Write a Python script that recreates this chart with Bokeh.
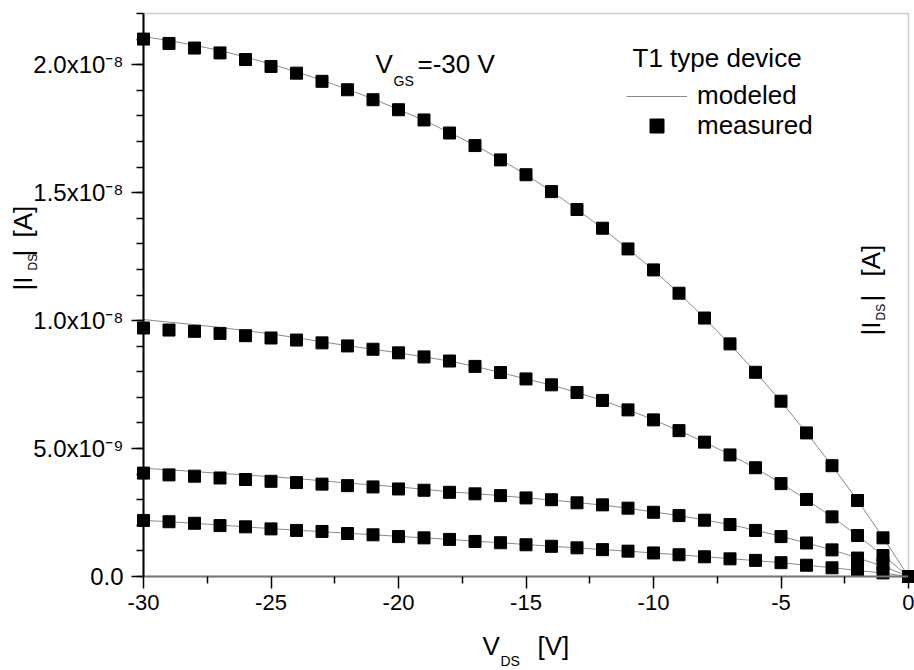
import math
from bokeh.plotting import figure
from bokeh.models import Range1d, FixedTicker, Label, Legend, LegendItem, BoxAnnotation
from bokeh.embed import file_html
from bokeh.resources import INLINE

# ---------------- data (|I_DS| in units of 1e-9 A) ----------------
v_ds = [-30, -29, -28, -27, -26, -25, -24, -23, -22, -21, -20, -19, -18, -17, -16,
        -15, -14, -13, -12, -11, -10, -9, -8, -7, -6, -5, -4, -3, -2, -1, 0]

meas_1 = [21.0, 20.83, 20.65, 20.46, 20.2, 19.93, 19.67, 19.35, 19.02, 18.63, 18.24,
          17.84, 17.33, 16.84, 16.28, 15.70, 15.04, 14.34, 13.61, 12.80, 11.98, 11.07,
          10.10, 9.09, 7.98, 6.85, 5.61, 4.33, 2.97, 1.51, 0.0]
meas_2 = [9.71, 9.63, 9.58, 9.50, 9.41, 9.32, 9.24, 9.13, 9.01, 8.88, 8.74, 8.58, 8.42,
          8.21, 7.97, 7.72, 7.49, 7.19, 6.88, 6.51, 6.12, 5.70, 5.25, 4.75, 4.25, 3.63,
          3.01, 2.33, 1.60, 0.82, 0.0]
meas_3 = [4.04, 3.97, 3.92, 3.85, 3.79, 3.72, 3.67, 3.61, 3.55, 3.50, 3.42, 3.37, 3.29,
          3.23, 3.16, 3.07, 3.00, 2.88, 2.80, 2.67, 2.51, 2.38, 2.20, 2.03, 1.80, 1.56,
          1.31, 1.04, 0.72, 0.48, 0.0]
meas_4 = [2.19, 2.14, 2.08, 1.99, 1.94, 1.86, 1.80, 1.76, 1.68, 1.63, 1.56, 1.51, 1.45,
          1.37, 1.32, 1.24, 1.18, 1.12, 1.05, 0.99, 0.92, 0.85, 0.77, 0.69, 0.63, 0.54,
          0.44, 0.34, 0.25, 0.14, 0.0]

model_1 = [21.1, 20.94, 20.76, 20.55, 20.3, 20.02, 19.72, 19.39, 19.04, 18.66, 18.25,
           17.82, 17.35, 16.85, 16.30, 15.70, 15.05, 14.35, 13.60, 12.80, 11.97, 11.07,
           10.10, 9.08, 7.99, 6.84, 5.62, 4.33, 2.98, 1.53, 0.0]
model_2 = [10.04, 9.94, 9.84, 9.73, 9.61, 9.48, 9.33, 9.17, 9.02, 8.88, 8.74, 8.58, 8.42,
           8.21, 7.97, 7.72, 7.48, 7.19, 6.88, 6.52, 6.12, 5.70, 5.25, 4.76, 4.24, 3.64,
           3.01, 2.33, 1.60, 0.83, 0.0]
model_3 = [4.23, 4.17, 4.10, 4.03, 3.97, 3.90, 3.83, 3.74, 3.65, 3.58, 3.50, 3.41, 3.31,
           3.24, 3.16, 3.07, 2.99, 2.89, 2.79, 2.67, 2.52, 2.38, 2.21, 2.03, 1.81, 1.57,
           1.31, 1.04, 0.73, 0.40, 0.0]
model_4 = [2.19, 2.14, 2.08, 2.01, 1.94, 1.87, 1.81, 1.75, 1.69, 1.63, 1.57, 1.51, 1.45,
           1.38, 1.32, 1.25, 1.18, 1.12, 1.05, 0.99, 0.92, 0.85, 0.77, 0.70, 0.62, 0.54,
           0.44, 0.34, 0.24, 0.13, 0.0]

x_limits = (-30, 0)
y_limits = (0, 22)
x_major_ticks = [-30, -25, -20, -15, -10, -5, 0]
x_tick_labels = ["-30", "-25", "-20", "-15", "-10", "-5", "0"]
x_minor_ticks = [-27.5, -22.5, -17.5, -12.5, -7.5, -2.5]
y_major_ticks = [0, 5, 10, 15, 20]
y_tick_labels = ["0.0", "5.0x10\u207b\u2079", "1.0x10\u207b\u2078", "1.5x10\u207b\u2078", "2.0x10\u207b\u2078"]
y_minor_ticks = list(range(0, 23))

FONT = "Liberation Sans"

# ---------------- layout (pixels) ----------------
W, H = 914, 670
PX_L, PX_R, PX_T, PX_B = 143, 908, 13, 576
kx = (x_limits[1] - x_limits[0]) / (PX_R - PX_L)
ky = (y_limits[1] - y_limits[0]) / (PX_B - PX_T)
x_range = Range1d(x_limits[0] - PX_L * kx, x_limits[1] + (W - PX_R) * kx)
y_range = Range1d(y_limits[0] - (H - PX_B) * ky, y_limits[1] + PX_T * ky)

p = figure(width=W, height=H, x_range=x_range, y_range=y_range,
           output_backend="svg", toolbar_location=None,
           min_border_left=0, min_border_right=0, min_border_top=0, min_border_bottom=0)
p.grid.visible = False
p.outline_line_color = None

# plot box (top and right edges)
p.add_layout(BoxAnnotation(left=x_limits[0], right=x_limits[1], bottom=y_limits[0],
                           top=y_limits[1], fill_alpha=0, line_color="#555555",
                           line_width=1.5, level="underlay"))

for ax in (p.xaxis[0], p.yaxis[0]):
    ax.major_tick_in = 0
    ax.minor_tick_in = 0
    ax.major_tick_out = 12
    ax.minor_tick_out = 7
    ax.major_tick_line_color = "black"
    ax.minor_tick_line_color = "black"
    ax.major_tick_line_width = 1.5
    ax.minor_tick_line_width = 1.5
    ax.major_label_text_font = FONT
    ax.major_label_text_color = "black"

p.xaxis.fixed_location = y_limits[0]
p.xaxis.bounds = x_limits
p.xaxis.ticker = FixedTicker(ticks=x_major_ticks, minor_ticks=x_minor_ticks)
p.xaxis.major_label_overrides = dict(zip(x_major_ticks, x_tick_labels))
p.xaxis.major_label_text_font_size = "22px"
p.xaxis.major_label_standoff = 6
p.xaxis.axis_line_color = "#777777"
p.xaxis.axis_line_width = 2

p.yaxis.fixed_location = x_limits[0]
p.yaxis.bounds = y_limits
p.yaxis.ticker = FixedTicker(ticks=y_major_ticks, minor_ticks=y_minor_ticks)
p.yaxis.major_label_overrides = dict(zip(y_major_ticks, y_tick_labels))
p.yaxis.major_label_text_font_size = "24px"
p.yaxis.major_label_standoff = 8
p.yaxis.axis_line_color = "black"
p.yaxis.axis_line_width = 2

meas = [meas_1, meas_2, meas_3, meas_4]
models = [model_1, model_2, model_3, model_4]
line_rs = []
for m in models:
    line_rs.append(p.line(v_ds, m, line_color="#8a8a8a", line_width=1))
sq_rs = []
for m in meas:
    sq_rs.append(p.scatter(v_ds, m, marker="square", size=12, fill_color="black",
                           line_color="black"))

UP = math.pi / 2
SHIFT = 0.35  # empirical baseline correction (fraction of font size)


def lab(text, X, Y, size=26, angle=0.0):
    """Text whose baseline starts at canvas pixel (X from left, Y from top)."""
    if angle == 0.0:
        sx, sy = X, H - (Y - SHIFT * size)
    else:
        sx, sy = X - SHIFT * size, H - Y
    p.add_layout(Label(x=sx, y=sy, x_units="screen", y_units="screen", text=text,
                       text_font=FONT, text_font_size=f"{size}px", text_color="black",
                       angle=angle, text_align="left", text_baseline="alphabetic"))


# y axis title (left)
lab("|I", 32, 290, angle=UP)
lab("DS", 37, 270, size=12, angle=UP)
lab("|", 32, 256, angle=UP)
lab("[A]", 32, 237, angle=UP)

# right-side title
lab("|I", 880, 335, angle=UP)
lab("DS", 885, 320, size=12, angle=UP)
lab("|", 880, 301, angle=UP)
lab("[A]", 880, 276, angle=UP)

# x axis title
lab("V", 482, 655)
lab("DS", 500, 665, size=14)
lab("[V]", 537, 655)

# V_GS annotation
lab("V", 375, 73)
lab("GS", 393, 85, size=14)
lab("=-30 V", 417, 73)

# legend title
lab("T1 type device", 632, 67)

leg_common = dict(glyph_width=61, label_standoff=10, padding=0, margin=0, spacing=0,
                  label_text_font=FONT, label_text_font_size="26px",
                  label_text_color="black", border_line_color=None,
                  background_fill_color=None)
leg1 = Legend(items=[LegendItem(label="modeled", renderers=[line_rs[0]])],
              location=(626, H - 111), glyph_height=20, **leg_common)
leg2 = Legend(items=[LegendItem(label="measured", renderers=[sq_rs[0]])],
              location=(626, H - 143), glyph_height=35, **leg_common)
p.add_layout(leg1)
p.add_layout(leg2)

open("out.html", "w").write(file_html(p, INLINE))
